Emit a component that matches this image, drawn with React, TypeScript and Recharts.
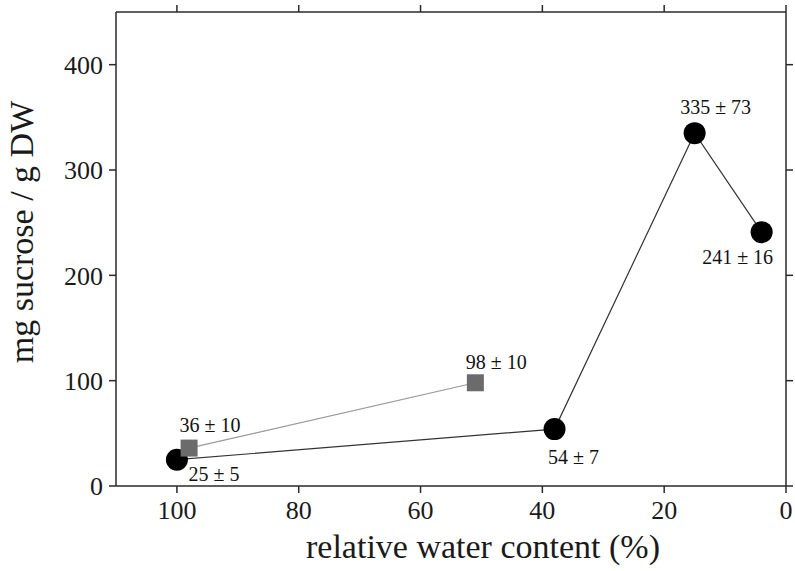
import { ScatterChart, Scatter, XAxis, YAxis } from 'recharts'

// circles: drought series
const rwcCircle = [100, 38, 15, 4]
const sucroseCircle = [25, 54, 335, 241]
const sdCircle = [5, 7, 73, 16]

// squares: second series
const rwcSquare = [98, 51]
const sucroseSquare = [36, 98]
const sdSquare = [10, 10]

const xTicks = [0, 20, 40, 60, 80, 100]
const yTicks = [0, 100, 200, 300, 400]

// label offsets from marker centre (px)
const circleLabelOffset = [
  [37, 14],
  [19, 28],
  [21, -26],
  [-24, 25],
]
const squareLabelOffset = [
  [21, -23],
  [21, -21],
]

const FONT = '"Liberation Serif", "Times New Roman", serif'
const AXIS = '#2a2a2a'

const circleData = rwcCircle.map((x, i) => ({ x, y: sucroseCircle[i], label: `${sucroseCircle[i]} ± ${sdCircle[i]}`, i }))
const squareData = rwcSquare.map((x, i) => ({ x, y: sucroseSquare[i], label: `${sucroseSquare[i]} ± ${sdSquare[i]}`, i }))

const tickStyle = { fill: '#1a1a1a', fontSize: 26, fontFamily: FONT }

function annot(cx: number, cy: number, text: string, off: number[]) {
  return (
    <text
      x={cx + off[0]}
      y={cy + off[1]}
      textAnchor="middle"
      dominantBaseline="central"
      fontSize={20}
      fontFamily={FONT}
      fill="#111"
    >
      {text}
    </text>
  )
}

const CircleShape = (props: any) => {
  const { cx, cy, payload } = props
  return (
    <g>
      <circle cx={cx} cy={cy} r={11} fill="#000" />
      {annot(cx, cy, payload.label, circleLabelOffset[payload.i])}
    </g>
  )
}

const SquareShape = (props: any) => {
  const { cx, cy, payload } = props
  return (
    <g>
      <rect x={cx - 8.5} y={cy - 8.5} width={17} height={17} fill="#6b6b6b" />
      {annot(cx, cy, payload.label, squareLabelOffset[payload.i])}
    </g>
  )
}

export default function App() {
  return (
    <div style={{ position: 'absolute', left: 0, top: 0, background: '#fff' }}>
      <ScatterChart width={795} height={571} margin={{ top: 11, right: 8, bottom: 0, left: 0 }}>
        <XAxis
          xAxisId="bottom"
          type="number"
          dataKey="x"
          domain={[0, 110]}
          reversed
          ticks={xTicks}
          height={85}
          tick={tickStyle}
          tickSize={7}
          tickMargin={8}
          stroke={AXIS}
          strokeWidth={1.5}
          label={(p: any) => {
            const vb = p.viewBox
            return (
              <text x={483} y={vb.y + 72} textAnchor="middle" fontSize={34} fontFamily={FONT} fill="#1a1a1a">
                relative water content (%)
              </text>
            )
          }}
        />
        <XAxis
          xAxisId="top"
          orientation="top"
          type="number"
          dataKey="x"
          domain={[0, 110]}
          reversed
          ticks={xTicks}
          height={1}
          tickSize={7}
          tickFormatter={() => ''}
          stroke={AXIS}
          strokeWidth={1.5}
        />
        <YAxis
          yAxisId="left"
          type="number"
          dataKey="y"
          domain={[0, 450]}
          ticks={yTicks}
          width={116}
          tick={tickStyle}
          tickSize={7}
          tickMargin={6}
          stroke={AXIS}
          strokeWidth={1.5}
          label={() => (
            <text
              x={33}
              y={232}
              transform="rotate(-90, 33, 232)"
              textAnchor="middle"
              fontSize={34}
              fontFamily={FONT}
              fill="#1a1a1a"
            >
              mg sucrose / g DW
            </text>
          )}
        />
        <YAxis
          yAxisId="right"
          orientation="right"
          type="number"
          dataKey="y"
          domain={[0, 450]}
          ticks={yTicks}
          width={1}
          tickSize={7}
          tickFormatter={() => ''}
          stroke={AXIS}
          strokeWidth={1.5}
        />
        {/* invisible series so the top/right frame axes get drawn */}
        <Scatter
          data={circleData}
          xAxisId="top"
          yAxisId="right"
          shape={() => <g />}
          legendType="none"
          isAnimationActive={false}
        />
        <Scatter
          data={circleData}
          xAxisId="bottom"
          yAxisId="left"
          line={{ stroke: '#333', strokeWidth: 1.2 }}
          lineType="joint"
          shape={CircleShape}
          isAnimationActive={false}
        />
        <Scatter
          data={squareData}
          xAxisId="bottom"
          yAxisId="left"
          line={{ stroke: '#999', strokeWidth: 1.2 }}
          lineType="joint"
          shape={SquareShape}
          isAnimationActive={false}
        />
      </ScatterChart>
    </div>
  )
}
